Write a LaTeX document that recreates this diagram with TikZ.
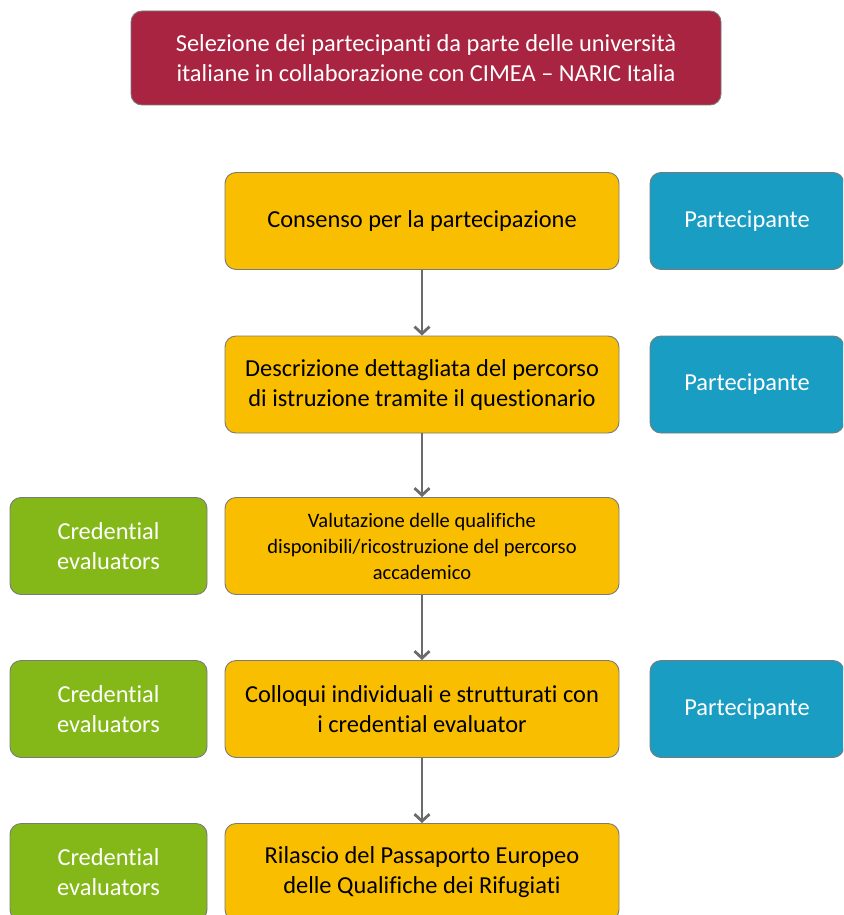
\documentclass[tikz,border=0pt]{standalone}
\usepackage{fontspec}
\setmainfont{Carlito}[Ligatures={TeX,NoCommon}]
\usetikzlibrary{arrows.meta}
\definecolor{crimson}{HTML}{A92441}
\definecolor{amber}{HTML}{FABE00}
\definecolor{teal}{HTML}{1A9DC3}
\definecolor{lime}{HTML}{84B818}
\definecolor{edge}{HTML}{7A7A7A}
\definecolor{arr}{HTML}{6B6B6B}
\tikzset{
  box/.style={draw=edge, line width=0.9pt, rounded corners=11pt, align=center, inner sep=4pt},
  redbox/.style={box, fill=crimson, text=white, minimum width=590pt, minimum height=94pt, font=\fontsize{24.4}{30}\selectfont},
  mainbox/.style={box, fill=amber, text=black, minimum width=394pt, minimum height=97pt, font=\fontsize{24.4}{30}\selectfont},
  bluebox/.style={box, fill=teal, text=white, minimum width=194pt, minimum height=97pt, font=\fontsize{24.4}{30}\selectfont},
  greenbox/.style={box, fill=lime, text=white, minimum width=197pt, minimum height=97pt, font=\fontsize{24.4}{30}\selectfont},
  flow/.style={draw=arr, line width=2.8pt, -{Straight Barb[length=7pt,width=15pt,line width=2.8pt]}}
}
\begin{document}
\begin{tikzpicture}[x=1pt,y=-1pt]
\path[use as bounding box] (0,0) rectangle (843,915);
\clip (0,0) rectangle (843,915);
\node[redbox] (top) at (426,58) {Selezione dei partecipanti da parte delle università\\italiane in collaborazione con CIMEA – NARIC Italia};

\node[mainbox] (m1) at (422,221) {Consenso per la partecipazione};
\node[mainbox] (m2) at (422,384.5) {Descrizione dettagliata del percorso\\di istruzione tramite il questionario};
\node[mainbox, font=\fontsize{20.5}{26}\selectfont] (m3) at (422,546) {Valutazione delle qualifiche\\disponibili/ricostruzione del percorso\\accademico};
\node[mainbox] (m4) at (422,709) {Colloqui individuali e strutturati con\\i credential evaluator};
\node[mainbox] (m5) at (422,872) {Rilascio del Passaporto Europeo\\delle Qualifiche dei Rifugiati};

\node[bluebox] (p1) at (747,221) {Partecipante};
\node[bluebox] (p2) at (747,384.5) {Partecipante};
\node[bluebox] (p4) at (747,709) {Partecipante};

\node[greenbox] (c3) at (108.5,546) {Credential\\evaluators};
\node[greenbox] (c4) at (108.5,709) {Credential\\evaluators};
\node[greenbox] (c5) at (108.5,872) {Credential\\evaluators};

\draw[flow] (m1.south) -- (m2.north);
\draw[flow] (m2.south) -- (m3.north);
\draw[flow] (m3.south) -- (m4.north);
\draw[flow] (m4.south) -- (m5.north);
\end{tikzpicture}
\end{document}
